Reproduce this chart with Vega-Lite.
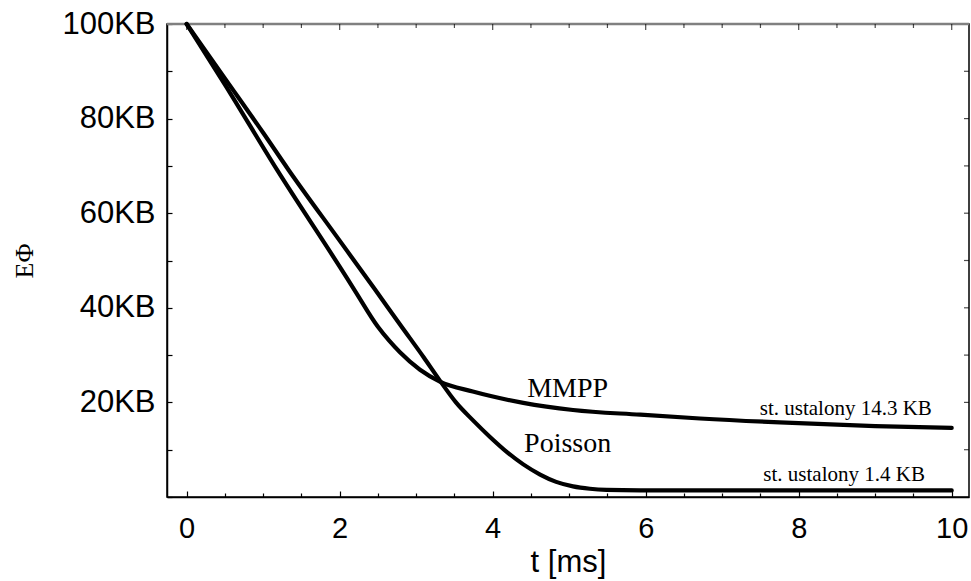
{
  "$schema": "https://vega.github.io/schema/vega-lite/v6.json",
  "width": 802,
  "height": 473,
  "autosize": "none",
  "padding": {"left": 167, "top": 24, "right": 2, "bottom": 84},
  "background": "white",
  "config": {"view": {"stroke": "black", "strokeWidth": 1.5}},
  "datasets": {
    "curves": [
      {"series": "MMPP", "t": 0, "v": 100},
      {"series": "MMPP", "t": 0.5, "v": 87.2},
      {"series": "MMPP", "t": 1.18, "v": 69.2},
      {"series": "MMPP", "t": 2.0, "v": 48.7},
      {"series": "MMPP", "t": 2.2, "v": 43.6},
      {"series": "MMPP", "t": 2.5, "v": 36.0},
      {"series": "MMPP", "t": 2.65, "v": 33.0},
      {"series": "MMPP", "t": 2.788, "v": 30.6},
      {"series": "MMPP", "t": 3.05, "v": 26.9},
      {"series": "MMPP", "t": 3.31, "v": 24.4},
      {"series": "MMPP", "t": 3.74, "v": 22.3},
      {"series": "MMPP", "t": 3.96, "v": 21.4},
      {"series": "MMPP", "t": 4.4, "v": 19.9},
      {"series": "MMPP", "t": 5.05, "v": 18.4},
      {"series": "MMPP", "t": 5.93, "v": 17.4},
      {"series": "MMPP", "t": 6.71, "v": 16.6},
      {"series": "MMPP", "t": 8.0, "v": 15.6},
      {"series": "MMPP", "t": 9.0, "v": 15.0},
      {"series": "MMPP", "t": 10.0, "v": 14.6},
      {"series": "Poisson", "t": 0, "v": 100},
      {"series": "Poisson", "t": 0.5, "v": 88.5},
      {"series": "Poisson", "t": 1.0, "v": 77.0},
      {"series": "Poisson", "t": 1.33, "v": 69.2},
      {"series": "Poisson", "t": 2.0, "v": 54.2},
      {"series": "Poisson", "t": 2.46, "v": 43.9},
      {"series": "Poisson", "t": 2.81, "v": 36.0},
      {"series": "Poisson", "t": 3.1, "v": 29.5},
      {"series": "Poisson", "t": 3.31, "v": 24.6},
      {"series": "Poisson", "t": 3.52, "v": 20.0},
      {"series": "Poisson", "t": 3.743, "v": 16.2},
      {"series": "Poisson", "t": 3.965, "v": 12.7},
      {"series": "Poisson", "t": 4.187, "v": 9.5},
      {"series": "Poisson", "t": 4.4, "v": 6.9},
      {"series": "Poisson", "t": 4.62, "v": 4.75},
      {"series": "Poisson", "t": 4.83, "v": 3.2},
      {"series": "Poisson", "t": 5.05, "v": 2.25},
      {"series": "Poisson", "t": 5.27, "v": 1.75},
      {"series": "Poisson", "t": 5.49, "v": 1.52},
      {"series": "Poisson", "t": 5.93, "v": 1.42},
      {"series": "Poisson", "t": 7.0, "v": 1.4},
      {"series": "Poisson", "t": 8.5, "v": 1.4},
      {"series": "Poisson", "t": 10.0, "v": 1.4}
    ],
    "names": [
      {"label": "MMPP", "t": 4.98, "v": 21.1},
      {"label": "Poisson", "t": 4.98, "v": 9.42}
    ],
    "steady": [
      {"label": "st. ustalony 14.3 KB", "t": 9.74, "v": 17.4},
      {"label": "st. ustalony 1.4 KB", "t": 9.65, "v": 3.3}
    ],
    "xmajor": [{"t": 0}, {"t": 2}, {"t": 4}, {"t": 6}, {"t": 8}, {"t": 10}],
    "xminor": [{"t": 0.5}, {"t": 1}, {"t": 1.5}, {"t": 2.5}, {"t": 3}, {"t": 3.5}, {"t": 4.5}, {"t": 5}, {"t": 5.5}, {"t": 6.5}, {"t": 7}, {"t": 7.5}, {"t": 8.5}, {"t": 9}, {"t": 9.5}],
    "yticks": [{"v": 10}, {"v": 20}, {"v": 30}, {"v": 40}, {"v": 50}, {"v": 60}, {"v": 70}, {"v": 80}, {"v": 90}]
  },
  "layer": [
    {
      "data": {"values": [{}]},
      "mark": {"type": "rule", "color": "#808080", "strokeWidth": 2.5},
      "encoding": {"y": {"datum": 100, "type": "quantitative"}}
    },
    {
      "data": {"name": "xmajor"},
      "mark": {"type": "tick", "orient": "vertical", "color": "black", "size": 6, "thickness": 1.2, "yOffset": 3},
      "encoding": {"x": {"field": "t", "type": "quantitative"}, "y": {"datum": 100, "type": "quantitative"}}
    },
    {
      "data": {"name": "xminor"},
      "mark": {"type": "tick", "orient": "vertical", "color": "black", "size": 4, "thickness": 1.2, "yOffset": 2},
      "encoding": {"x": {"field": "t", "type": "quantitative"}, "y": {"datum": 100, "type": "quantitative"}}
    },
    {
      "data": {"name": "yticks"},
      "mark": {"type": "tick", "orient": "horizontal", "color": "black", "size": 5, "thickness": 1.2, "xOffset": -2.5},
      "encoding": {"y": {"field": "v", "type": "quantitative"}, "x": {"datum": 10.226, "type": "quantitative"}}
    },
    {
      "data": {"name": "curves"},
      "mark": {"type": "line", "color": "black", "strokeWidth": 4.2, "strokeCap": "round", "strokeJoin": "round", "interpolate": "monotone"},
      "encoding": {
        "x": {
          "field": "t", "type": "quantitative",
          "scale": {"domain": [-0.257, 10.226], "nice": false, "zero": false},
          "axis": {
            "orient": "bottom",
            "values": [0,0.5,1,1.5,2,2.5,3,3.5,4,4.5,5,5.5,6,6.5,7,7.5,8,8.5,9,9.5,10],
            "labelExpr": "datum.value % 2 === 0 ? format(datum.value, 'd') : ''",
            "tickSize": {"condition": {"test": "datum.value % 2 === 0", "value": -6}, "value": -4},
            "tickColor": "black", "tickWidth": 1.2,
            "domainColor": "black", "domainWidth": 1.5,
            "grid": false,
            "labelFont": "Liberation Sans", "labelFontSize": 29, "labelColor": "black",
            "labelPadding": 23, "labelFlush": false, "labelOverlap": false,
            "title": "t [ms]", "titleFont": "Liberation Sans", "titleFontSize": 31,
            "titleFontWeight": "normal", "titleColor": "black", "titlePadding": 2
          }
        },
        "y": {
          "field": "v", "type": "quantitative",
          "scale": {"domain": [0, 100], "nice": false, "zero": false},
          "axis": {
            "orient": "left",
            "values": [0,10,20,30,40,50,60,70,80,90,100],
            "labelExpr": "datum.value % 20 === 0 && datum.value > 0 ? datum.value + 'KB' : ''",
            "tickSize": -5, "tickColor": "black", "tickWidth": 1.2,
            "domainColor": "black", "domainWidth": 1.5,
            "grid": false,
            "labelFont": "Liberation Sans", "labelFontSize": 31, "labelColor": "black",
            "labelPadding": 17, "labelFlush": false, "labelOverlap": false, "labelBaseline": "middle",
            "title": "EΦ", "titleFont": "Liberation Serif", "titleFontSize": 26,
            "titleFontWeight": "normal", "titleColor": "black", "titlePadding": 24
          }
        },
        "detail": {"field": "series"}
      }
    },
    {
      "data": {"name": "names"},
      "mark": {"type": "text", "font": "Liberation Serif", "fontSize": 28, "color": "black", "align": "center", "baseline": "alphabetic"},
      "encoding": {
        "x": {"field": "t", "type": "quantitative"},
        "y": {"field": "v", "type": "quantitative"},
        "text": {"field": "label"}
      }
    },
    {
      "data": {"name": "steady"},
      "mark": {"type": "text", "font": "Liberation Serif", "fontSize": 21, "color": "black", "align": "right", "baseline": "alphabetic"},
      "encoding": {
        "x": {"field": "t", "type": "quantitative"},
        "y": {"field": "v", "type": "quantitative"},
        "text": {"field": "label"}
      }
    }
  ]
}
